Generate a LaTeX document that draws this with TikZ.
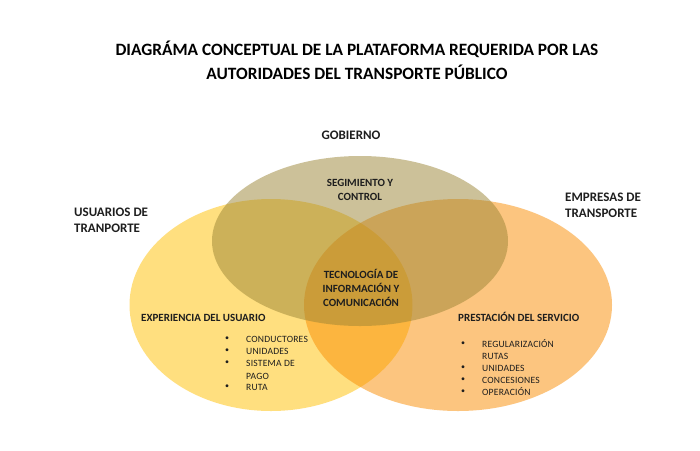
\documentclass[tikz,border=0pt]{standalone}
\usepackage{fontspec}
\setmainfont{Carlito}
\usetikzlibrary{shapes.geometric}
\definecolor{txt}{HTML}{1E1E1E}
\definecolor{cgob}{RGB}{155,133,53}
\definecolor{cusu}{RGB}{255,192,0}
\definecolor{cemp}{RGB}{250,140,0}
\tikzset{
  venn/.style={ellipse, inner sep=0pt, fill opacity=0.5, draw=none},
  ttl/.style={font=\fontsize{17.3}{24}\selectfont\bfseries, align=center, text=black, inner sep=0pt},
  grp/.style={font=\fontsize{13}{16}\selectfont\bfseries, align=left, text=txt, inner sep=0pt},
  sub/.style={font=\fontsize{11}{13.7}\selectfont\bfseries, align=center, text=txt, inner sep=0pt},
  item/.style={font=\fontsize{9.6}{12}\selectfont\addfontfeature{LetterSpace=2}, text=txt, inner sep=0pt, anchor=west},
  bul/.style={font=\fontsize{8}{12}\selectfont, text=txt, inner sep=0pt},
}
\begin{document}
\begin{tikzpicture}[x=1pt,y=-1pt]
\useasboundingbox (0,0) rectangle (700,450);
\fill[white] (0,0) rectangle (700,450);
% ellipses
\node[venn, fill=cusu, minimum width=283pt, minimum height=212pt] (usu) at (271,305) {};
\node[venn, fill=cemp, minimum width=308pt, minimum height=212pt] (emp) at (458,305) {};
\node[venn, fill=cgob, minimum width=296pt, minimum height=170pt] (gob) at (360,241) {};
% title
\node[ttl] (title) at (357,60) {DIAGRÁMA CONCEPTUAL DE LA PLATAFORMA REQUERIDA POR LAS\\AUTORIDADES DEL TRANSPORTE PÚBLICO};
% group labels
\node[grp, anchor=center] (lgob) at (351,135) {GOBIERNO};
\node[grp, anchor=west] (lusu) at (74,220) {USUARIOS DE\\TRANPORTE};
\node[grp, anchor=west] (lemp) at (565,205) {EMPRESAS DE\\TRANSPORTE};
% inner labels
\node[sub] (seg) at (360,190) {SEGIMIENTO Y\\CONTROL};
\node[sub] (tic) at (361,288) {TECNOLOGÍA DE\\INFORMACIÓN Y\\COMUNICACIÓN};
\node[sub, anchor=west] (exp) at (141,318) {EXPERIENCIA DEL USUARIO};
\node[sub, anchor=west] (pre) at (458,317) {PRESTACIÓN DEL SERVICIO};
% left list
\node[bul] (b1) at (227,339) {•};
\node[item] (i1) at (246,339) {CONDUCTORES};
\node[bul] (b2) at (227,351) {•};
\node[item] (i2) at (246,351) {UNIDADES};
\node[bul] (b3) at (227,363) {•};
\node[item] (i3) at (246,363) {SISTEMA DE};
\node[item] (i3b) at (246,376) {PAGO};
\node[bul] (b4) at (227,387) {•};
\node[item] (i4) at (246,387) {RUTA};
% right list
\node[bul] (c1) at (463,344) {•};
\node[item] (j1) at (482,344) {REGULARIZACIÓN};
\node[item] (j1b) at (482,356) {RUTAS};
\node[bul] (c2) at (463,368) {•};
\node[item] (j2) at (482,368) {UNIDADES};
\node[bul] (c3) at (463,380) {•};
\node[item] (j3) at (482,380) {CONCESIONES};
\node[bul] (c4) at (463,392) {•};
\node[item] (j4) at (482,392) {OPERACIÓN};
\end{tikzpicture}
\end{document}
